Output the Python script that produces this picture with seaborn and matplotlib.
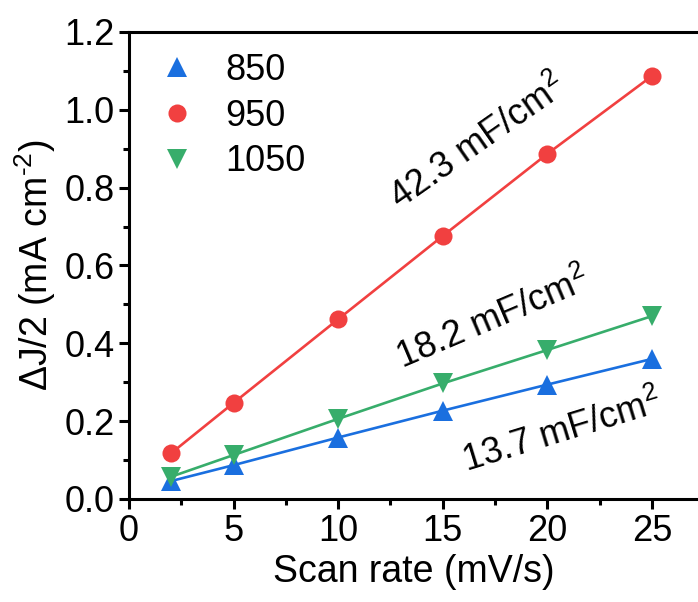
import numpy as np
import pandas as pd
import seaborn as sns
import matplotlib
matplotlib.use('Agg')
from matplotlib import pyplot as plt
from matplotlib.lines import Line2D
from matplotlib.ticker import MultipleLocator

# data
scan_rate = [2, 5, 10, 15, 20, 25]
j_850 = [0.046, 0.087, 0.158, 0.227, 0.294, 0.360]
j_950 = [0.117, 0.247, 0.462, 0.676, 0.887, 1.087]
j_1050 = [0.057, 0.113, 0.206, 0.297, 0.383, 0.470]
labels = ['850', '950', '1050']
colors = ['#1A6FDF', '#F14040', '#37AD6B']
markers = ['^', 'o', 'v']
msizes = [15, 13, 15]

df = pd.DataFrame({'x': scan_rate * 3,
                   'y': j_850 + j_950 + j_1050,
                   'T': [l for l in labels for _ in scan_rate]})

sns.set_style('ticks', {'axes.edgecolor': 'black', 'text.color': 'black',
                        'axes.labelcolor': 'black', 'xtick.color': 'black',
                        'ytick.color': 'black'})
plt.rcParams['font.family'] = ['Liberation Sans', 'DejaVu Sans']
plt.rcParams['mathtext.fontset'] = 'custom'
plt.rcParams['mathtext.rm'] = 'Liberation Sans'
plt.rcParams['mathtext.it'] = 'Liberation Sans'

fig = plt.figure(figsize=(6.98, 6.02), dpi=100)
ax = fig.add_axes([129/698, 1 - 499/602, 1 - 129/698, (499-32)/602])

handles = []
for lab, c, m, ms in zip(labels, colors, markers, msizes):
    sub = df[df['T'] == lab]
    sns.lineplot(data=sub, x='x', y='y', ax=ax, color=c, lw=1.9,
                 marker=m, markersize=ms, markeredgewidth=0, legend=False)
    handles.append(Line2D([], [], ls='none', marker=m, color=c, markersize=ms,
                          markeredgewidth=0, label=lab))

ax.set_xlim(0, 27.2)
ax.set_ylim(0, 1.2)
ax.xaxis.set_major_locator(MultipleLocator(5))
ax.xaxis.set_minor_locator(MultipleLocator(2.5))
ax.yaxis.set_major_locator(MultipleLocator(0.2))
ax.yaxis.set_minor_locator(MultipleLocator(0.1))
ax.tick_params(which='major', direction='out', length=7, width=2.2,
               labelsize=26, colors='black')
ax.tick_params(which='minor', direction='out', length=4, width=2.2,
               colors='black')
for s in ['left', 'bottom', 'top']:
    ax.spines[s].set_linewidth(2.2)
    ax.spines[s].set_color('black')
ax.spines['right'].set_visible(False)
ax.set_xlabel('Scan rate (mV/s)', fontsize=27, color='black')
ax.set_ylabel(r'ΔJ/2 (mA cm$^{\text{-2}}$)', fontsize=27, color='black')

ax.text(16.7, 0.915, '42.3 mF/cm$^2$', fontsize=26, rotation=35,
        ha='center', va='center', color='black')
ax.text(17.4, 0.46, '18.2 mF/cm$^2$', fontsize=26, rotation=23,
        ha='center', va='center', color='black')
ax.text(20.7, 0.172, '13.7 mF/cm$^2$', fontsize=26, rotation=17,
        ha='center', va='center', color='black')

leg = ax.legend(handles=handles, loc='upper left', frameon=False, fontsize=26,
                handlelength=1.0, handletextpad=0.85, labelspacing=0.3,
                bbox_to_anchor=(-0.005, 1.025))
for t in leg.get_texts():
    t.set_color('black')

fig.savefig('out.png', dpi=100)
